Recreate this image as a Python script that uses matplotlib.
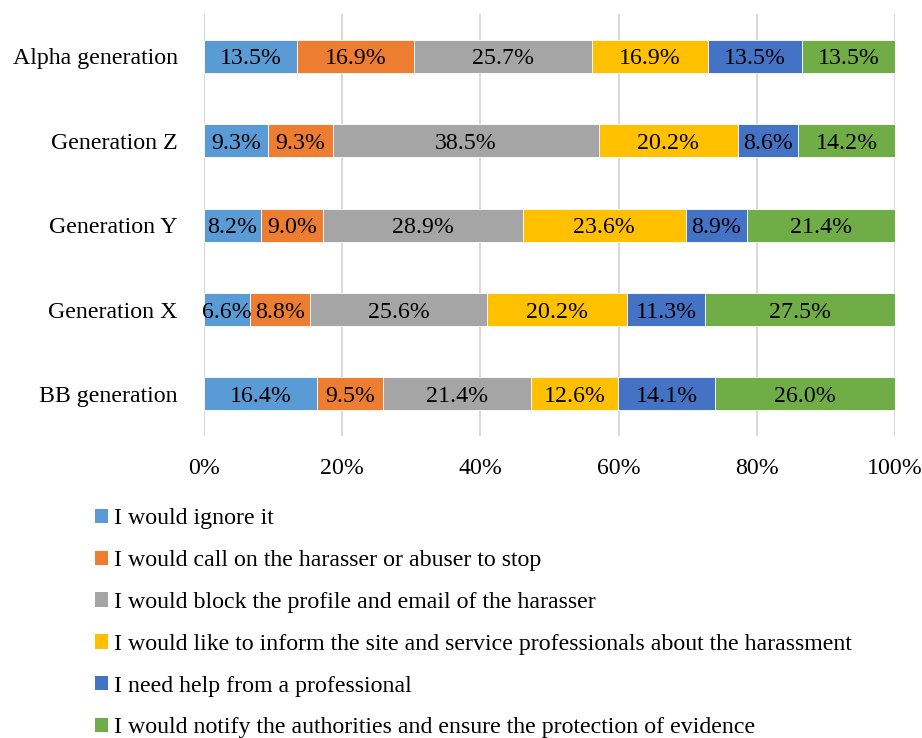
import matplotlib.pyplot as plt
from matplotlib.patches import Patch
from matplotlib.ticker import FuncFormatter

plt.rcParams['font.family'] = ['Liberation Serif', 'DejaVu Serif']

# generations, bottom to top
generations = ['BB generation', 'Generation X', 'Generation Y', 'Generation Z', 'Alpha generation']

responses = [
    'I would ignore it',
    'I would call on the harasser or abuser to stop',
    'I would block the profile and email of the harasser',
    'I would like to inform the site and service professionals about the harassment',
    'I need help from a professional',
    'I would notify the authorities and ensure the protection of evidence',
]

# share (%) of each response, same order as generations
ignore = [16.4, 6.6, 8.2, 9.3, 13.5]
call_stop = [9.5, 8.8, 9.0, 9.3, 16.9]
block = [21.4, 25.6, 28.9, 38.5, 25.7]
inform_site = [12.6, 20.2, 23.6, 20.2, 16.9]
professional = [14.1, 11.3, 8.9, 8.6, 13.5]
authorities = [26.0, 27.5, 21.4, 14.2, 13.5]

series = [ignore, call_stop, block, inform_site, professional, authorities]
colors = ['#5B9BD5', '#ED7D31', '#A5A5A5', '#FFC000', '#4472C4', '#70AD47']

FS = 17.2

fig = plt.figure(figsize=(9.22, 7.38), dpi=100)
ax = fig.add_axes([0.2213, 0.409, 0.7495, 0.572])

y = list(range(len(generations)))
left = [0.0] * len(generations)
for vals, col in zip(series, colors):
    bars = ax.barh(y, vals, left=left, height=0.39, color=col,
                   edgecolor='white', linewidth=0.6, zorder=3)
    for b, v in zip(bars, vals):
        ax.text(b.get_x() + b.get_width() / 2, b.get_y() + b.get_height() / 2,
                f'{v:.1f}%', ha='center', va='center_baseline', fontsize=FS, zorder=4)
    left = [l + v for l, v in zip(left, vals)]

ax.set_xlim(0, 100)
ax.set_ylim(-0.5, 4.5)
ax.set_xticks(range(0, 101, 20))
ax.xaxis.set_major_formatter(FuncFormatter(lambda v, p: f'{v:.0f}%'))
ax.set_yticks(y)
ax.set_yticklabels(generations)
ax.tick_params(axis='both', length=0, labelsize=FS)
ax.tick_params(axis='y', pad=19)
ax.tick_params(axis='x', pad=16)
ax.grid(axis='x', color='#D9D9D9', linewidth=1.5, zorder=0)
for s in ax.spines.values():
    s.set_visible(False)

handles = [Patch(facecolor=c, edgecolor='none') for c in colors]
fig.legend(handles, responses, loc='upper left', bbox_to_anchor=(0.093, 0.324),
           frameon=False, fontsize=FS, handlelength=0.55, handleheight=0.55,
           handletextpad=0.25, labelspacing=0.87, borderaxespad=0)

fig.savefig('out.png', dpi=100)
